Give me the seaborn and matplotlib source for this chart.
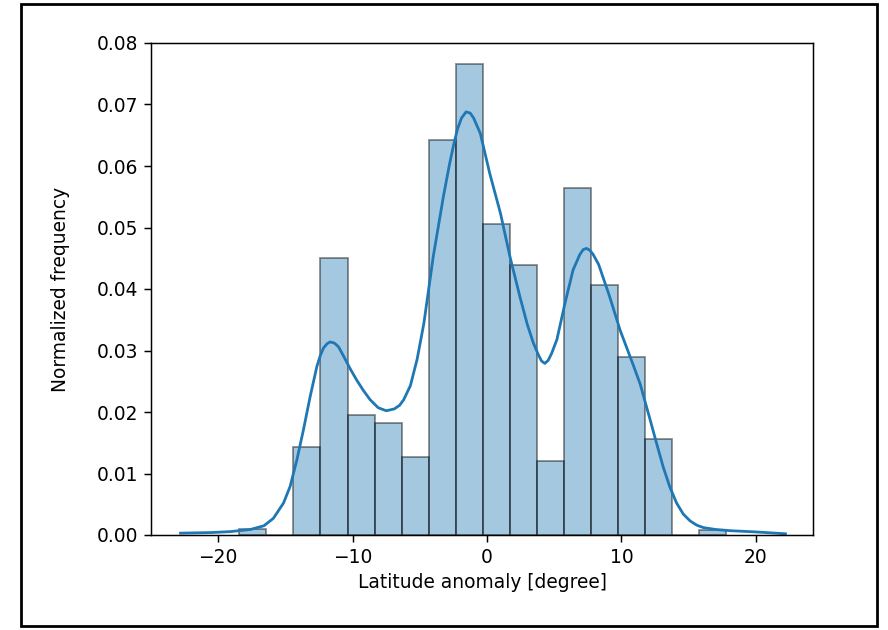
import numpy as np
import pandas as pd
import matplotlib
matplotlib.use("Agg")
import matplotlib.pyplot as plt
from matplotlib.patches import Rectangle
import seaborn as sns

# ---- data ----
bin_centers = [-17.415, -15.405, -13.395, -11.385, -9.375, -7.365, -5.355, -3.345,
               -1.335, 0.675, 2.685, 4.695, 6.705, 8.715, 10.725, 12.735, 14.745, 16.755]
bin_density = [0.0010, 0.0, 0.0143, 0.0450, 0.0195, 0.0182, 0.0127, 0.0642,
               0.0766, 0.0506, 0.0439, 0.0120, 0.0564, 0.0407, 0.0289, 0.0156, 0.0, 0.0008]

kde_x = [-22.8, -20.5, -19.1, -17.6, -16.6, -15.9, -15.14, -14.65, -14.15, -13.66,
         -13.16, -12.66, -12.4, -12.17, -11.9, -11.67, -11.35, -11.05, -10.7, -10.2,
         -9.7, -9.2, -8.7, -8.1, -7.5, -6.9, -6.5,
         -6.2, -5.7, -5.2, -4.7, -4.0, -3.25, -2.8, -2.5, -2.2, -1.9, -1.56, -1.25, -1.0, -0.5,
         0.2, 1.0, 1.7, 2.45, 3.0, 3.45, 3.8, 4.05, 4.3, 4.55, 4.8, 5.2,
         5.8, 6.4, 6.9, 7.15, 7.4, 7.65, 7.9, 8.3, 9.1, 9.9, 10.9, 11.4,
         12.1, 12.6, 13.1, 13.6, 14.1, 14.6, 15.1, 15.6, 16.1, 17.0, 18.1, 20.0, 22.2]
kde_y = [0.0003, 0.0004, 0.00055, 0.0009, 0.0015, 0.0027, 0.0052, 0.0079, 0.0122, 0.0171,
         0.0225, 0.0274, 0.0292, 0.0304, 0.0311, 0.0314, 0.0312, 0.0306, 0.0292, 0.0271,
         0.0252, 0.0235, 0.0220, 0.0207, 0.0202, 0.0205, 0.0211,
         0.0220, 0.0243, 0.0286, 0.0344, 0.0453, 0.0550, 0.0602, 0.0633, 0.0660, 0.0678, 0.0688, 0.0686, 0.0678, 0.0653,
         0.0588, 0.0523, 0.0453, 0.0387, 0.0342, 0.0312, 0.0294, 0.0283, 0.0279, 0.0284, 0.0295, 0.0318,
         0.0377, 0.0431, 0.0456, 0.0464, 0.0466, 0.0463, 0.0456, 0.0440, 0.0389, 0.0333, 0.0275, 0.0245,
         0.0190, 0.0150, 0.0111, 0.0078, 0.0052, 0.0034, 0.0023, 0.0016, 0.0012, 0.0009, 0.0007, 0.0005, 0.0002]

x_label = "Latitude anomaly [degree]"
y_label = "Normalized frequency"

bin_start = -18.42
bin_width = 2.01
n_bins = len(bin_centers)
bin_edges = [float(v) for v in bin_start + bin_width * np.arange(n_bins + 1)]

hist_df = pd.DataFrame({"x": bin_centers, "w": bin_density})
kde_df = pd.DataFrame({"x": kde_x, "y": kde_y})

fig = plt.figure(figsize=(8.88, 6.30), dpi=100)
ax = fig.add_axes([151 / 888, 1 - 535 / 630, (813 - 151) / 888, (535 - 43) / 630])

sns.histplot(data=hist_df, x="x", weights="w", bins=bin_edges, stat="count",
             color="#1f77b4", alpha=0.4, edgecolor=(0, 0, 0, 0.45), linewidth=1.3, ax=ax)
sns.lineplot(data=kde_df, x="x", y="y", color="#1f77b4", linewidth=2.0, ax=ax)

ax.set_xlim(-25.0, 24.25)
ax.set_ylim(0, 0.08)
ax.set_xticks([-20, -10, 0, 10, 20])
yt = [0.0, 0.01, 0.02, 0.03, 0.04, 0.05, 0.06, 0.07, 0.08]
ax.set_yticks(yt)
ax.set_yticklabels([f"{v:.2f}" for v in yt])
ax.set_xlabel(x_label, fontsize=13.4, labelpad=4)
ax.set_ylabel(y_label, fontsize=13.4, labelpad=19)
ax.tick_params(labelsize=13.4, length=4.7, width=1.07, pad=4.7)
for s in ax.spines.values():
    s.set_linewidth(1.07)

# outer frame of the screenshot
fig.patches.append(Rectangle((21 / 888, 4 / 630), (877 - 21) / 888, (626 - 4) / 630,
                             transform=fig.transFigure, fill=False,
                             edgecolor="black", linewidth=2.0))

fig.savefig("out.png", dpi=100)
